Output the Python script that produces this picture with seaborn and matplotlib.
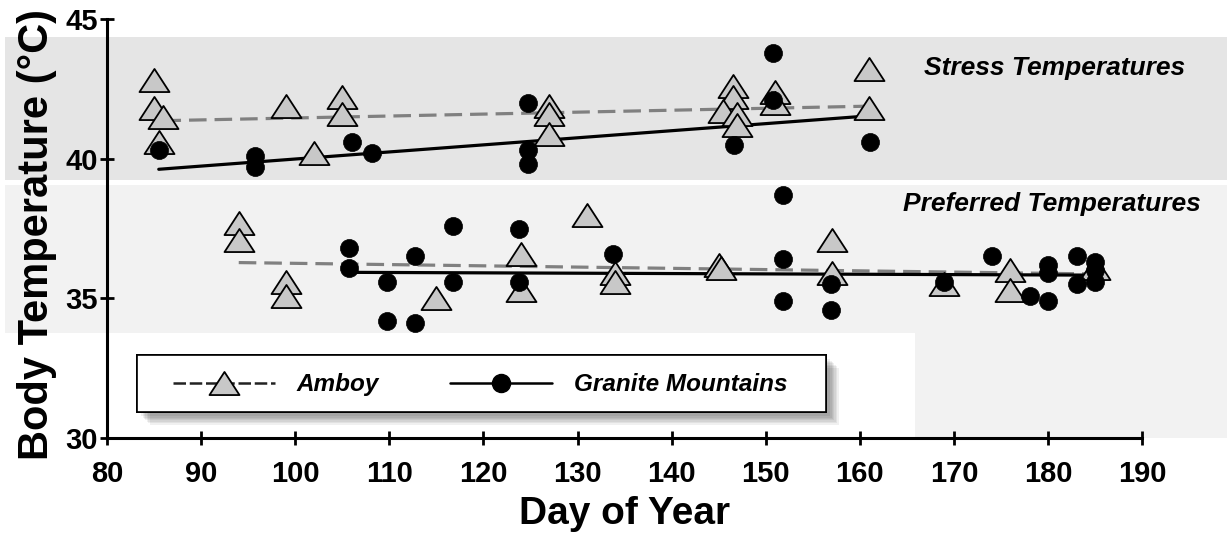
import matplotlib
matplotlib.use("Agg")
import matplotlib.pyplot as plt
import seaborn as sns
from matplotlib.path import Path
from matplotlib.lines import Line2D
from matplotlib.patches import Rectangle
import matplotlib.patheffects as pe

# ---------------- data ----------------
amboy_day = [85, 85, 86, 85.5, 99, 105, 105, 102, 127, 127, 127, 146.5, 146.5, 145.5, 147, 147,
             151, 151, 161, 161,
             94, 94, 99, 99, 115, 124, 124, 131, 134, 134, 145, 145.2, 157, 157, 169, 176, 176, 185]
amboy_temp = [42.8, 41.8, 41.5, 40.6, 41.9, 42.2, 41.6, 40.2, 41.9, 41.6, 40.9, 42.6, 42.2, 41.7, 41.6, 41.2,
              42.4, 42.0, 43.2, 41.8,
              37.7, 37.1, 35.6, 35.1, 35.0, 36.6, 35.3, 38.0, 35.9, 35.6, 36.2, 36.1, 37.1, 35.9, 35.5, 36.0, 35.3, 36.1]

granite_day = [85.5, 95.7, 95.7, 106, 108.2, 124.7, 124.7, 124.7, 146.6, 150.8, 150.8, 151.8, 161.1,
               105.7, 105.7, 109.8, 109.8, 112.7, 112.7, 116.8, 116.8, 123.8, 123.8, 133.8, 151.8, 151.8,
               156.9, 156.9, 168.9, 174, 178.1, 180, 180, 180, 183.1, 183.1, 185, 185, 185]
granite_temp = [40.3, 40.1, 39.7, 40.6, 40.2, 42.0, 40.3, 39.8, 40.5, 43.8, 42.1, 38.7, 40.6,
                36.8, 36.1, 35.6, 34.2, 36.5, 34.1, 37.6, 35.6, 37.5, 35.6, 36.6, 36.4, 34.9,
                35.5, 34.6, 35.6, 36.5, 35.1, 36.2, 35.9, 34.9, 36.5, 35.5, 36.3, 36.0, 35.6]

# fitted trend lines (end points)
amboy_stress_day, amboy_stress_fit = [86, 161], [41.36, 41.88]
granite_stress_day, granite_stress_fit = [85.5, 160.5], [39.62, 41.52]
amboy_pref_day, amboy_pref_fit = [94, 185.5], [36.28, 35.87]
granite_pref_day, granite_pref_fit = [106, 185.5], [35.93, 35.83]

stress_band = (39.25, 44.35)
pref_band = (33.75, 39.05)

x_ticks = [80, 90, 100, 110, 120, 130, 140, 150, 160, 170, 180, 190]
y_ticks = [30, 35, 40, 45]

# ---------------- style ----------------
sns.set_style("white")
plt.rcParams["font.family"] = ["Liberation Sans", "DejaVu Sans"]
plt.rcParams["font.weight"] = "bold"
plt.rcParams["text.color"] = "black"
plt.rcParams["axes.labelcolor"] = "black"

W, H = 1227, 538
fig = plt.figure(figsize=(W / 100, H / 100), dpi=100)
ax = fig.add_axes([107 / W, 100 / H, 1120 / W, 419 / H])
xmax = 80 + 1120 / 9.41
xmin_band = 80 - 102 / 9.41
ax.set_xlim(80, xmax)
ax.set_ylim(30, 45)
ax.set_facecolor("none")

# background bands
ax.add_patch(Rectangle((xmin_band, stress_band[0]), xmax - xmin_band, stress_band[1] - stress_band[0],
                       facecolor="#e5e5e5", edgecolor="none", clip_on=False, zorder=0))
ax.add_patch(Rectangle((xmin_band, pref_band[0]), xmax - xmin_band, pref_band[1] - pref_band[0],
                       facecolor="#f2f2f2", edgecolor="none", clip_on=False, zorder=0))
ax.add_patch(Rectangle((165.9, 30), xmax - 165.9, pref_band[0] - 30,
                       facecolor="#f2f2f2", edgecolor="none", clip_on=False, zorder=0))

# trend lines
dash = (0, (5.5, 2.5))
for d, t in [(amboy_stress_day, amboy_stress_fit), (amboy_pref_day, amboy_pref_fit)]:
    sns.lineplot(x=d, y=t, ax=ax, color="#808080", linewidth=2.3, linestyle=dash,
                 estimator=None, zorder=2)
for d, t in [(granite_stress_day, granite_stress_fit), (granite_pref_day, granite_pref_fit)]:
    sns.lineplot(x=d, y=t, ax=ax, color="black", linewidth=2.3, estimator=None, zorder=2)

TRI = Path([(0, 0.385), (-0.5, -0.385), (0.5, -0.385), (0, 0.385)],
           [Path.MOVETO, Path.LINETO, Path.LINETO, Path.CLOSEPOLY])

sns.scatterplot(x=amboy_day, y=amboy_temp, ax=ax, marker=TRI, s=21.6 ** 2,
                color="#c8c8c8", edgecolor="black", linewidth=1.3, zorder=3)
sns.scatterplot(x=granite_day, y=granite_temp, ax=ax, marker="o", s=13 ** 2,
                color="black", edgecolor="black", linewidth=0.5, zorder=4)

# axes styling
for s in ["top", "right"]:
    ax.spines[s].set_visible(False)
ax.spines["left"].set_bounds(30, 45)
ax.spines["bottom"].set_bounds(80, 190)
for s in ["left", "bottom"]:
    ax.spines[s].set_linewidth(2.2)
    ax.spines[s].set_color("black")
    ax.spines[s].set_zorder(6)
ax.set_xticks(x_ticks)
ax.set_yticks(y_ticks)
ax.tick_params(axis="both", direction="inout", length=9.5, width=2, labelsize=21,
               colors="black", bottom=True, left=True)
ax.tick_params(axis="x", pad=11)
ax.tick_params(axis="y", pad=2)
for lbl in ax.get_xticklabels() + ax.get_yticklabels():
    lbl.set_fontweight("bold")

ax.set_xlabel("Day of Year", fontsize=28, fontweight="bold", color="black")
ax.xaxis.set_label_coords(0.462, -0.138)
ax.set_ylabel("Body Temperature (°C)", fontsize=30, fontweight="bold", color="black")
ax.yaxis.set_label_coords(-0.045, 0.486)

ax.text(180.7, 43.25, "Stress Temperatures", ha="center", va="center", fontsize=19,
        fontstyle="italic", fontweight="bold", color="black", zorder=5)
ax.text(180.4, 38.38, "Preferred Temperatures", ha="center", va="center", fontsize=19,
        fontstyle="italic", fontweight="bold", color="black", zorder=5)

# legend box with soft shadow
shadow = [pe.withSimplePatchShadow(offset=(o, -o), shadow_rgbFace="black", alpha=0.06)
          for o in (9, 8, 7, 6, 5, 4, 3)]
frame = Rectangle((0.0268, 0.062), 0.642 - 0.0268, 0.198 - 0.062, transform=ax.transAxes,
                  facecolor="white", edgecolor="black", linewidth=1.2, zorder=7,
                  path_effects=shadow + [pe.Normal()])
ax.add_patch(frame)
h1 = Line2D([], [], color="#222222", linewidth=1.8, linestyle=(0, (5, 1.5)), marker=TRI,
            markersize=21.6, markerfacecolor="#c8c8c8", markeredgecolor="black", markeredgewidth=1.3)
h2 = Line2D([], [], color="black", linewidth=1.8, marker="o", markersize=13,
            markerfacecolor="black", markeredgecolor="black")
leg = ax.legend(handles=[h1, h2], labels=["Amboy", "Granite Mountains"], loc="center left",
                bbox_to_anchor=(0.0589, 0.1265), ncol=2, frameon=False, handlelength=4.2,
                handletextpad=0.9, columnspacing=2.9, borderpad=0, borderaxespad=0,
                prop=dict(size=17.5, style="italic", weight="bold"))
for t in leg.get_texts():
    t.set_color("black")
leg.set_zorder(8)

fig.savefig("out.png", dpi=100)
